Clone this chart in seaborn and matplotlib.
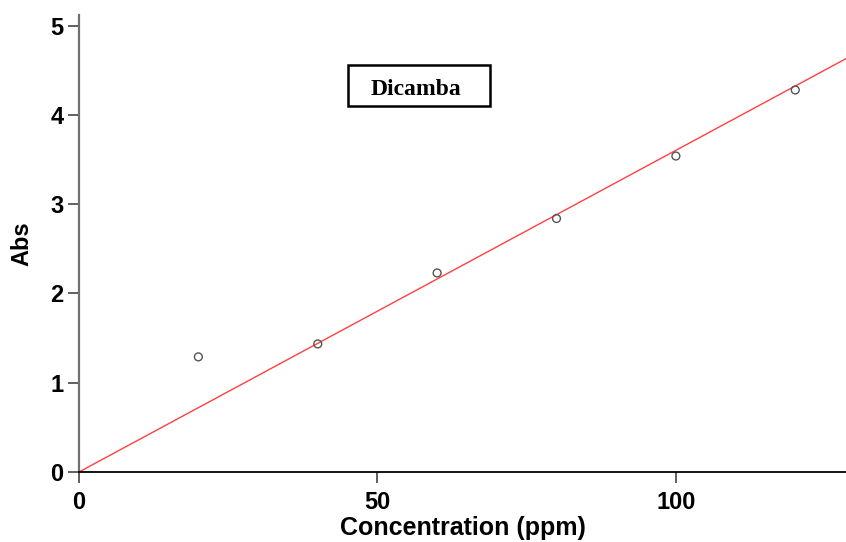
import numpy as np
import pandas as pd
import matplotlib
matplotlib.use("Agg")
import matplotlib.pyplot as plt
import seaborn as sns
from matplotlib.patches import Rectangle

# Calibration data for Dicamba
concentration = [20, 40, 60, 80, 100, 120]          # ppm
absorbance = [1.29, 1.435, 2.23, 2.84, 3.54, 4.28]  # Abs
x_ticks = [0, 50, 100]
y_ticks = [0, 1, 2, 3, 4, 5]
title_text = "Dicamba"

df = pd.DataFrame({"Concentration (ppm)": concentration, "Abs": absorbance})

# least-squares slope for a line through the origin
xv = np.asarray(concentration, float)
yv = np.asarray(absorbance, float)
slope = float((xv * yv).sum() / (xv * xv).sum())

sns.set_style("white")
plt.rcParams["font.family"] = ["Liberation Sans", "DejaVu Sans"]
plt.rcParams["text.color"] = "black"
plt.rcParams["axes.labelcolor"] = "black"
plt.rcParams["xtick.color"] = "black"
plt.rcParams["ytick.color"] = "black"

fig = plt.figure(figsize=(8.46, 5.42), dpi=100)
ax = fig.add_axes([79 / 846, 1 - 472 / 542, 1 - 79 / 846, (472 - 15) / 542])

x_max = 128.5
fit_x = np.array([0.0, x_max])
ax.plot(fit_x, slope * fit_x, color="#ff4040", lw=1.0, zorder=2)

sns.scatterplot(data=df, x="Concentration (ppm)", y="Abs", ax=ax,
                marker="o", s=32, facecolor="none", edgecolor="#555555",
                linewidth=1.0, zorder=3)

ax.set_xlim(0, x_max)
ax.set_ylim(0, 5.12)
ax.set_xticks(x_ticks)
ax.set_yticks(y_ticks)

for side in ("top", "right"):
    ax.spines[side].set_visible(False)
ax.spines["left"].set_color("#707070")
ax.spines["left"].set_linewidth(1.6)
ax.spines["bottom"].set_color("#000000")
ax.spines["bottom"].set_linewidth(1.3)

ax.tick_params(axis="both", which="major", bottom=True, left=True,
               direction="out", length=8, width=1.2, color="#444444",
               labelcolor="black", labelsize=17)
ax.tick_params(axis="x", pad=6)
ax.tick_params(axis="y", pad=3)
for lab in ax.get_xticklabels() + ax.get_yticklabels():
    lab.set_fontweight("bold")

ax.set_xlabel("Concentration (ppm)", fontsize=18, fontweight="bold", labelpad=1)
ax.set_ylabel("Abs", fontsize=17, fontweight="bold", labelpad=12)

# label box
box_x0, box_y0 = 348 / 846, 1 - 106 / 542
box_w, box_h = 142 / 846, 41 / 542
fig.patches.append(Rectangle((box_x0, box_y0), box_w, box_h, transform=fig.transFigure,
                             fill=False, edgecolor="black", linewidth=1.8, zorder=5))
fig.text(box_x0 + box_w / 2 - 3 / 846, box_y0 + box_h / 2 - 4 / 542, title_text,
         ha="center", va="center", fontsize=17, fontweight="bold",
         family=["Liberation Serif", "DejaVu Serif"])

fig.savefig("out.png", dpi=100)
